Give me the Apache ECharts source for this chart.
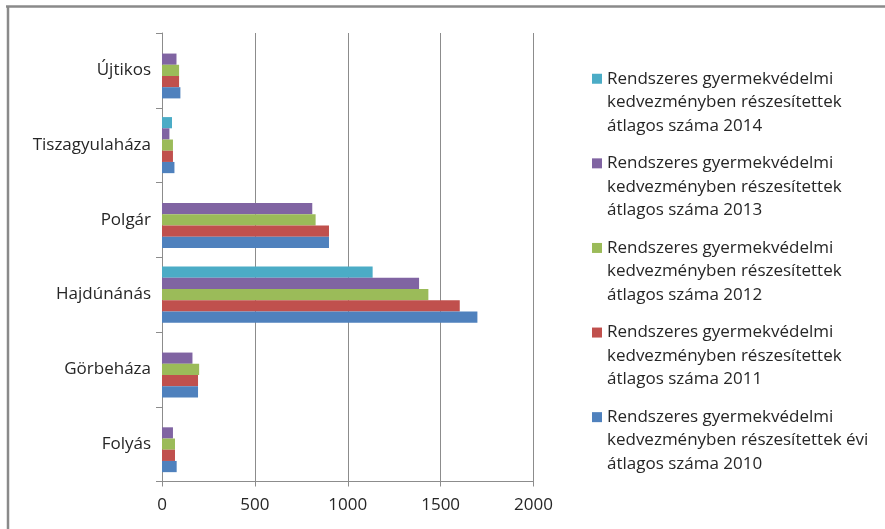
<!DOCTYPE html>
<html>
<head>
<meta charset="utf-8">
<script src="https://cdn.jsdelivr.net/npm/echarts@6/dist/echarts.min.js"></script>
<style>
html,body{margin:0;padding:0;background:#fff;}
#chart{width:885px;height:529px;}
</style>
</head>
<body>
<div id="chart"></div>
<script>
const categories = ['Folyás', 'Görbeháza', 'Hajdúnánás', 'Polgár', 'Tiszagyulaháza', 'Újtikos'];
const values2010 = [79, 194, 1698, 899, 67, 99];
const values2011 = [70, 194, 1603, 899, 59, 92];
const values2012 = [70, 200, 1434, 827, 59, 92];
const values2013 = [59, 164, 1384, 809, 40, 78];
const values2014 = [null, null, 1134, null, 54, null];
const xTicks = [0, 500, 1000, 1500, 2000];
const seriesNames = [
  'Rendszeres gyermekvédelmi kedvezményben részesítettek átlagos száma 2014',
  'Rendszeres gyermekvédelmi kedvezményben részesítettek átlagos száma 2013',
  'Rendszeres gyermekvédelmi kedvezményben részesítettek átlagos száma 2012',
  'Rendszeres gyermekvédelmi kedvezményben részesítettek átlagos száma 2011',
  'Rendszeres gyermekvédelmi kedvezményben részesítettek évi átlagos száma 2010'
];
const seriesValues = [values2014, values2013, values2012, values2011, values2010];
const colors = ['#4BACC6', '#8064A2', '#9BBB59', '#C0504D', '#4F81BD'];

const FONT = 'Open Sans';
const FS = 17;
const chart = echarts.init(document.getElementById('chart'));

function wrapName(name) {
  const i1 = name.indexOf('kedvezményben');
  const i2 = name.indexOf('átlagos');
  // two leading empty lines so the icon lines up with the first text line
  return '\n\n' + name.slice(0, i1).trim() + '\n' + name.slice(i1, i2).trim() + '\n' + name.slice(i2).trim();
}

const LH = 23.5;
chart.setOption({
  animation: false,
  backgroundColor: '#fff',
  color: colors,
  textStyle: { fontFamily: FONT },
  grid: { left: 162, top: 33, width: 371.5, height: 448.5, containLabel: false },
  legend: {
    orient: 'vertical',
    left: 592,
    top: 20,
    padding: 0,
    itemWidth: 10,
    itemHeight: 10,
    itemGap: 84.6 - 5 * LH,
    icon: 'rect',
    data: seriesNames.slice(),
    formatter: wrapName,
    textStyle: {
      fontFamily: FONT,
      fontSize: FS,
      color: '#262626',
      lineHeight: LH
    }
  },
  xAxis: {
    type: 'value',
    min: xTicks[0],
    max: xTicks[xTicks.length - 1],
    interval: 500,
    axisLine: { show: true, lineStyle: { color: '#8c8c8c', width: 1 } },
    axisTick: { show: true, length: 5, lineStyle: { color: '#8c8c8c' } },
    axisLabel: { fontFamily: FONT, fontSize: FS, color: '#262626', margin: 15, formatter: v => String(v) },
    splitLine: { show: true, lineStyle: { color: '#8c8c8c', width: 1 } }
  },
  yAxis: {
    type: 'category',
    data: categories,
    axisLine: { show: true, lineStyle: { color: '#8c8c8c', width: 1 } },
    axisTick: { show: true, length: 6, lineStyle: { color: '#8c8c8c' } },
    axisLabel: { fontFamily: FONT, fontSize: FS, color: '#262626', margin: 11 }
  },
  graphic: [
    { type: 'line', shape: { x1: 6, y1: 6.5, x2: 885, y2: 6.5 }, style: { stroke: '#8a8a8a', lineWidth: 2.5 } },
    { type: 'line', shape: { x1: 8, y1: 6, x2: 8, y2: 529 }, style: { stroke: '#8a8a8a', lineWidth: 2.5 } }
  ],
  series: seriesNames.map((n, i) => ({
    name: n,
    type: 'bar',
    data: seriesValues[i],
    barGap: '0%',
    barCategoryGap: '25%',
    itemStyle: { color: colors[i] }
  }))
});
</script>
</body>
</html>
